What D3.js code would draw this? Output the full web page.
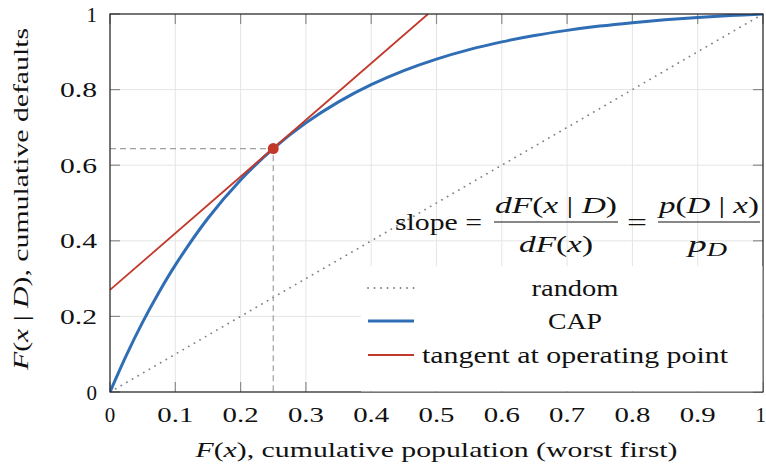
<!DOCTYPE html>
<html>
<head>
<meta charset="utf-8">
<script src="https://cdn.jsdelivr.net/npm/d3@7"></script>
<style>
  html, body { margin: 0; padding: 0; background: #fff; }
  svg { display: block; }
</style>
</head>
<body>
<svg id="chart" width="766" height="472"></svg>
<script>
// Cumulative accuracy profile (CAP) with its tangent at the operating point
const capX = [0, 0.025, 0.05, 0.075, 0.1, 0.15, 0.2, 0.25, 0.3, 0.35, 0.4, 0.45,
              0.5, 0.55, 0.6, 0.65, 0.7, 0.75, 0.8, 0.85, 0.9, 0.95, 1];
const capY = [0, 0.0969, 0.1847, 0.2640, 0.3358, 0.4596, 0.5609, 0.6439, 0.7119, 0.7675, 0.8130, 0.8503,
              0.8808, 0.9058, 0.9262, 0.9430, 0.9567, 0.9680, 0.9771, 0.9847, 0.9908, 0.9959, 1];
const randomX = [0, 1];
const randomY = [0, 1];
const tangentX = [0, 0.487];
const tangentY = [0.27, 1.0];
const operatingPoint = [0.25, 0.644];
const xTicks = [0, 0.1, 0.2, 0.3, 0.4, 0.5, 0.6, 0.7, 0.8, 0.9, 1];
const yTicks = [0, 0.2, 0.4, 0.6, 0.8, 1];
const xTickLabels = ["0", "0.1", "0.2", "0.3", "0.4", "0.5", "0.6", "0.7", "0.8", "0.9", "1"];
const yTickLabels = ["0", "0.2", "0.4", "0.6", "0.8", "1"];
const legendLabels = ["random", "CAP", "tangent at operating point"];

const C = { blue: "#2f6db5", red: "#c2392b", gray: "#808080", grid: "#e5e5e5", tick: "#8c8c8c" };
const M = { left: 110, right: 763, top: 14, bottom: 392 };
const SERIF = "'Liberation Serif', LiberationSerif, Tinos, 'Times New Roman', Times, 'DejaVu Serif', DejaVuSerif, 'Noto Serif', serif";

const svg = d3.select("#chart").attr("font-family", SERIF).attr("fill", "#111");
const x = d3.scaleLinear().domain([0, 1]).range([M.left, M.right]);
const y = d3.scaleLinear().domain([0, 1]).range([M.bottom, M.top]);

svg.append("defs").append("clipPath").attr("id", "plot-clip")
  .append("rect").attr("x", M.left).attr("y", M.top)
  .attr("width", M.right - M.left).attr("height", M.bottom - M.top);

// grid
const grid = svg.append("g");
grid.selectAll("line.gx").data(xTicks).join("line")
  .attr("x1", d => x(d)).attr("x2", d => x(d)).attr("y1", M.top).attr("y2", M.bottom)
  .attr("stroke", C.grid).attr("stroke-width", 1);
grid.selectAll("line.gy").data(yTicks).join("line")
  .attr("y1", d => y(d)).attr("y2", d => y(d)).attr("x1", M.left).attr("x2", M.right)
  .attr("stroke", C.grid).attr("stroke-width", 1);

// inward ticks on all four sides
const tickLen = 10;
const tickStyle = s => s.attr("stroke", C.tick).attr("stroke-width", 1.2);
[[M.bottom, -1], [M.top, 1]].forEach(([yy, dir]) => {
  svg.append("g").selectAll("line").data(xTicks).join("line")
    .attr("x1", d => x(d)).attr("x2", d => x(d)).attr("y1", yy).attr("y2", yy + dir * tickLen)
    .call(tickStyle);
});
[[M.left, 1], [M.right, -1]].forEach(([xx, dir]) => {
  svg.append("g").selectAll("line").data(yTicks).join("line")
    .attr("y1", d => y(d)).attr("y2", d => y(d)).attr("x1", xx).attr("x2", xx + dir * tickLen)
    .call(tickStyle);
});

const plot = svg.append("g").attr("clip-path", "url(#plot-clip)");
const line = d3.line().x(d => x(d[0])).y(d => y(d[1]));

// random model
plot.append("path").datum(d3.zip(randomX, randomY)).attr("d", line)
  .attr("fill", "none").attr("stroke", C.gray).attr("stroke-width", 1.8)
  .attr("stroke-linecap", "round").attr("stroke-dasharray", "0.1,6.4");

// guides to the operating point
const [opx, opy] = operatingPoint;
plot.append("path").datum([[0, opy], [opx, opy], [opx, 0]]).attr("d", line)
  .attr("fill", "none").attr("stroke", "#a0a0a0").attr("stroke-width", 1.2)
  .attr("stroke-dasharray", "6,4");

// CAP curve
plot.append("path").datum(d3.zip(capX, capY))
  .attr("d", d3.line().x(d => x(d[0])).y(d => y(d[1])).curve(d3.curveCatmullRom))
  .attr("fill", "none").attr("stroke", C.blue).attr("stroke-width", 3);

// tangent
plot.append("path").datum(d3.zip(tangentX, tangentY)).attr("d", line)
  .attr("fill", "none").attr("stroke", C.red).attr("stroke-width", 1.8);

// frame
svg.append("rect").attr("x", M.left).attr("y", M.top)
  .attr("width", M.right - M.left).attr("height", M.bottom - M.top)
  .attr("fill", "none").attr("stroke", "#222").attr("stroke-width", 1.2);

// operating point marker
svg.append("circle").attr("cx", x(opx)).attr("cy", y(opy)).attr("r", 5.5).attr("fill", C.red);

// stretch a text horizontally to a given width
function fit(sel, w) {
  return sel.attr("textLength", w).attr("lengthAdjust", "spacingAndGlyphs");
}

// tick labels
const tickFs = 21;
svg.append("g").selectAll("text").data(xTicks).join("text")
  .attr("x", (d, i) => i === xTicks.length - 1 ? 766 : x(d))
  .attr("y", M.bottom + 30)
  .attr("text-anchor", (d, i) => i === xTicks.length - 1 ? "end" : "middle")
  .attr("font-size", tickFs).text((d, i) => xTickLabels[i])
  .each(function (d, i) { if (xTickLabels[i].length > 1) fit(d3.select(this), 36); });
svg.append("g").selectAll("text").data(yTicks).join("text")
  .attr("x", M.left - 13).attr("y", d => y(d) + 7.5).attr("text-anchor", "end")
  .attr("font-size", tickFs).text((d, i) => yTickLabels[i])
  .each(function (d, i) { if (yTickLabels[i].length > 1) fit(d3.select(this), 37); });

// text made of roman / italic pieces
function rich(sel, parts) {
  parts.forEach(([t, it]) => {
    sel.append("tspan").attr("font-style", it ? "italic" : "normal").text(t);
  });
  return sel;
}

// axis titles
const titleFs = 22;
fit(rich(svg.append("text").attr("x", (M.left + M.right) / 2).attr("y", 457)
  .attr("text-anchor", "middle").attr("font-size", titleFs),
  [["F", 1], ["(", 0], ["x", 1], ["), cumulative population (worst first)", 0]]), 482);
fit(rich(svg.append("text").attr("transform", `translate(28,199) rotate(-90)`)
  .attr("text-anchor", "middle").attr("font-size", titleFs),
  [["F", 1], ["(", 0], ["x", 1], [" | ", 0], ["D", 1], ["), cumulative defaults", 0]]), 342);

// legend
const lgFs = 24;
const lg = svg.append("g");
lg.append("rect").attr("x", 361).attr("y", 266).attr("width", M.right - 361 - 0.6)
  .attr("height", M.bottom - 266 - 0.6).attr("fill", "#fff");
const rowsY = [288, 321, 355];
const legendWidths = [87, 54, 306];
const legendStyles = [
  { stroke: C.gray, w: 1.8, dash: "0.1,6.4", cap: "round" },
  { stroke: C.blue, w: 3, dash: null, cap: "butt" },
  { stroke: C.red, w: 1.8, dash: null, cap: "butt" }
];
legendLabels.forEach((lab, i) => {
  const s = legendStyles[i];
  lg.append("line").attr("x1", 368).attr("x2", 414).attr("y1", rowsY[i]).attr("y2", rowsY[i])
    .attr("stroke", s.stroke).attr("stroke-width", s.w).attr("stroke-linecap", s.cap)
    .attr("stroke-dasharray", s.dash);
  fit(lg.append("text").attr("x", 575).attr("y", rowsY[i] + 7.5).attr("text-anchor", "middle")
    .attr("font-size", lgFs).text(lab), legendWidths[i]);
});

// slope annotation
const eq = svg.append("g").attr("font-size", lgFs);
fit(eq.append("text").attr("x", 395).attr("y", 230), 87).text("slope =");
function frac(cx, num, numW, den, denW, x0, x1) {
  fit(rich(eq.append("text").attr("x", cx).attr("y", 213).attr("text-anchor", "middle"), num), numW);
  eq.append("line").attr("x1", x0).attr("x2", x1).attr("y1", 222).attr("y2", 222)
    .attr("stroke", "#111").attr("stroke-width", 1);
  if (den) fit(rich(eq.append("text").attr("x", cx).attr("y", 252).attr("text-anchor", "middle"), den), denW);
}
frac(556, [["dF", 1], ["(", 0], ["x", 1], [" | ", 0], ["D", 1], [")", 0]], 122,
     [["dF", 1], ["(", 0], ["x", 1], [")", 0]], 74, 494, 618);
fit(eq.append("text").attr("x", 627).attr("y", 230), 20).text("=");
frac(709, [["p", 1], ["(", 0], ["D", 1], [" | ", 0], ["x", 1], [")", 0]], 100, null, 0, 658, 760);
const den2 = eq.append("text").attr("x", 688).attr("y", 252);
den2.append("tspan").attr("font-style", "italic").text("p");
den2.append("tspan").attr("font-style", "italic").attr("font-size", 18).attr("dy", 4).text("D");
fit(den2, 39);
</script>
</body>
</html>
